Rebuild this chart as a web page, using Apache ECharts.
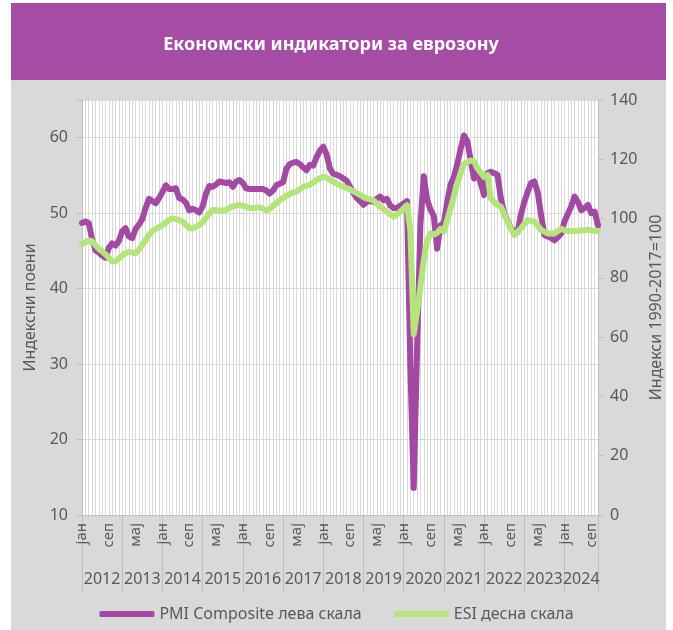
<!DOCTYPE html>
<html>
<head>
<meta charset="utf-8">
<script src="https://cdn.jsdelivr.net/npm/echarts@6/dist/echarts.min.js"></script>
<style>
html, body { margin: 0; padding: 0; background: #fff; }
#chart { width: 673px; height: 630px; }
</style>
</head>
<body>
<div id="chart"></div>
<script>
// monthly data, jan 2012 - nov 2024
const years = ['2012', '2013', '2014', '2015', '2016', '2017', '2018', '2019', '2020', '2021', '2022', '2023', '2024']
const monthNames = ['јан', 'феб', 'мар', 'апр', 'мај', 'јун', 'јул', 'авг', 'сеп', 'окт', 'нов', 'дец']

// PMI Composite (left axis)
const pmi = [
  48.7, 48.9, 48.7, 46.6, 45.1, 44.8, 44.4, 44.1, 45.4, 46.0, 45.7, 46.3,
  47.6, 48.0, 46.9, 46.7, 47.9, 48.5, 49.2, 50.7, 51.9, 51.6, 51.3, 52.0,
  52.8, 53.7, 53.2, 53.2, 53.3, 52.0, 51.8, 51.4, 50.4, 50.6, 50.4, 50.1,
  50.9, 52.6, 53.6, 53.5, 53.8, 54.2, 54.1, 54.0, 54.1, 53.5, 54.2, 54.4,
  54.0, 53.3, 53.2, 53.2, 53.2, 53.2, 53.2, 53.0, 52.6, 53.0, 53.7, 53.9,
  54.1, 55.9, 56.5, 56.7, 56.8, 56.5, 56.1, 55.7, 56.4, 56.3, 57.4, 58.3,
  58.8, 57.8, 55.9, 55.2, 55.1, 54.9, 54.6, 54.3, 53.5, 52.7, 52.0, 51.6,
  51.1, 51.5, 51.6, 51.5, 51.9, 52.2, 51.7, 51.9, 51.0, 50.7, 50.7, 51.0,
  51.3, 51.6, 29.7, 13.6, 31.9, 48.5, 54.9, 51.8, 50.5, 49.6, 45.3, 48.4,
  48.7, 51.5, 53.8, 54.8, 56.5, 58.5, 60.3, 59.5, 57.0, 54.6, 55.3, 54.0,
  52.4, 55.3, 55.5, 55.3, 55.1, 52.0, 50.0, 49.0, 48.0, 47.6, 47.5, 49.8,
  51.5, 52.8, 54.0, 54.2, 52.8, 49.8, 47.1, 46.9, 46.7, 46.4, 46.8, 47.3,
  48.9, 49.9, 50.9, 52.2, 51.5, 50.4, 50.7, 51.1, 50.0, 50.2, 48.4
]

// ESI (right axis)
const esi = [
  91.4, 92.0, 92.6, 92.4, 91.0, 89.8, 89.0, 88.0, 86.8, 85.5, 85.6, 86.6,
  87.5, 88.4, 88.8, 88.5, 88.3, 89.5, 91.2, 92.7, 94.5, 95.8, 96.5, 97.1,
  97.7, 98.6, 99.6, 100.1, 99.8, 99.4, 99.0, 97.9, 96.8, 96.7, 97.2, 97.8,
  98.8, 100.2, 101.8, 102.9, 102.8, 102.6, 102.8, 102.9, 103.6, 104.1, 104.4, 104.6,
  104.3, 104.0, 103.6, 103.5, 103.7, 103.8, 103.3, 102.7, 103.3, 104.3, 105.2, 106.2,
  106.9, 107.7, 108.3, 108.8, 109.1, 109.9, 110.7, 111.0, 111.4, 112.2, 113.0, 113.6,
  114.1, 113.8, 113.0, 112.5, 111.8, 111.2, 110.6, 110.3, 109.8, 109.2, 108.6, 108.0,
  107.3, 106.8, 106.5, 106.1, 105.0, 104.0, 103.2, 102.3, 101.4, 100.6, 101.4, 102.3,
  103.4, 104.5, 96.0, 61.0, 68.5, 77.0, 86.0, 92.5, 95.0, 94.6, 95.2, 96.5,
  95.6, 99.5, 103.5, 107.5, 111.9, 115.3, 118.5, 119.0, 119.6, 119.2, 117.0, 115.5,
  114.1, 114.7, 106.8, 105.6, 104.6, 104.0, 101.5, 99.0, 96.5, 94.5, 95.6, 96.7,
  98.1, 99.5, 99.2, 99.0, 97.6, 96.2, 95.6, 95.0, 95.0, 95.0, 95.8, 96.5,
  96.1, 95.8, 95.8, 95.8, 95.9, 96.0, 96.1, 96.2, 96.0, 95.8, 95.8
]

const months = []
years.forEach(y => monthNames.forEach(m => months.push(m + ' ' + y)))
months.length = pmi.length
const last = months.length - 1

// year label sits in the middle of its block
function yearMid (idx) {
  const start = Math.floor(idx / 12) * 12
  const end = Math.min(start + 12, last)
  return idx === Math.floor((start + end) / 2)
}

const purple = '#a349a4'
const green = '#b3e57b'
const gray = '#595959'
const font = 'Noto Sans'

const chart = echarts.init(document.getElementById('chart'))
chart.setOption({
  backgroundColor: '#fff',
  animation: false,
  textStyle: { fontFamily: font },
  graphic: [
    { type: 'rect', z: -100, shape: { x: 11, y: 80, width: 655, height: 550 }, style: { fill: '#d9d9d9' } },
    { type: 'rect', z: -100, shape: { x: 11, y: 3, width: 655, height: 77 }, style: { fill: '#a54ca5' } },
    {
      type: 'text',
      z: 10,
      x: 331,
      y: 45,
      style: {
        text: 'Економски индикатори за еврозону',
        fill: '#fff',
        font: 'bold 18px "Noto Sans"',
        align: 'center',
        verticalAlign: 'middle'
      }
    }
  ],
  grid: {
    left: 82, right: 75, top: 100, bottom: 115,
    show: true, backgroundColor: '#fff', borderWidth: 0
  },
  legend: {
    top: 606,
    left: 'center',
    padding: 0,
    itemWidth: 55,
    itemHeight: 6,
    itemGap: 32,
    icon: 'roundRect',
    textStyle: { fontSize: 16, color: gray, fontFamily: font },
    data: ['PMI Composite лева скала', 'ESI десна скала']
  },
  xAxis: [
    {
      type: 'category',
      data: months,
      boundaryGap: false,
      axisLine: { lineStyle: { color: '#bfbfbf' } },
      axisTick: {
        interval: idx => idx % 12 === 0 || idx === last,
        length: 77,
        lineStyle: { color: '#bfbfbf' }
      },
      axisLabel: {
        interval: idx => idx % 8 === 0,
        formatter: v => v.split(' ')[0],
        rotate: 90,
        margin: 8,
        fontSize: 15,
        color: gray
      },
      splitLine: { show: true, interval: 0, lineStyle: { color: '#d9d9d9' } }
    },
    {
      type: 'category',
      data: months,
      boundaryGap: false,
      position: 'bottom',
      axisLine: { show: false },
      axisTick: { show: false },
      axisLabel: {
        interval: idx => yearMid(idx),
        formatter: v => v.split(' ')[1],
        margin: 56,
        fontSize: 16,
        color: gray
      },
      splitLine: { show: false }
    }
  ],
  yAxis: [
    {
      type: 'value',
      min: 10,
      max: 65,
      interval: 10,
      position: 'left',
      name: 'Индексни поени',
      nameLocation: 'middle',
      nameRotate: 90,
      nameGap: 43,
      nameTextStyle: { fontSize: 16, color: gray },
      axisLine: { show: true, lineStyle: { color: '#bfbfbf' } },
      axisTick: { show: true, length: 6, lineStyle: { color: '#bfbfbf' } },
      axisLabel: { formatter: v => (v > 60 ? '' : v), fontSize: 16, color: gray, margin: 14 },
      splitLine: { show: true, lineStyle: { color: '#d9d9d9' } }
    },
    {
      type: 'value',
      min: 0,
      max: 140,
      interval: 20,
      position: 'right',
      name: 'Индекси 1990-2017=100',
      nameLocation: 'middle',
      nameRotate: 90,
      nameGap: 47,
      nameTextStyle: { fontSize: 16, color: gray },
      axisLine: { show: true, lineStyle: { color: '#bfbfbf' } },
      axisTick: { show: true, length: 6, lineStyle: { color: '#bfbfbf' } },
      axisLabel: { fontSize: 16, color: gray, margin: 12 },
      splitLine: { show: false }
    }
  ],
  series: [
    {
      name: 'PMI Composite лева скала',
      type: 'line',
      data: pmi,
      yAxisIndex: 0,
      symbol: 'none',
      color: purple,
      lineStyle: { width: 6, color: purple, cap: 'round', join: 'round' },
      emphasis: { disabled: true },
      z: 2
    },
    {
      name: 'ESI десна скала',
      type: 'line',
      data: esi,
      yAxisIndex: 1,
      symbol: 'none',
      color: green,
      lineStyle: { width: 6, color: green, cap: 'round', join: 'round' },
      emphasis: { disabled: true },
      z: 3
    }
  ]
})
</script>
</body>
</html>
